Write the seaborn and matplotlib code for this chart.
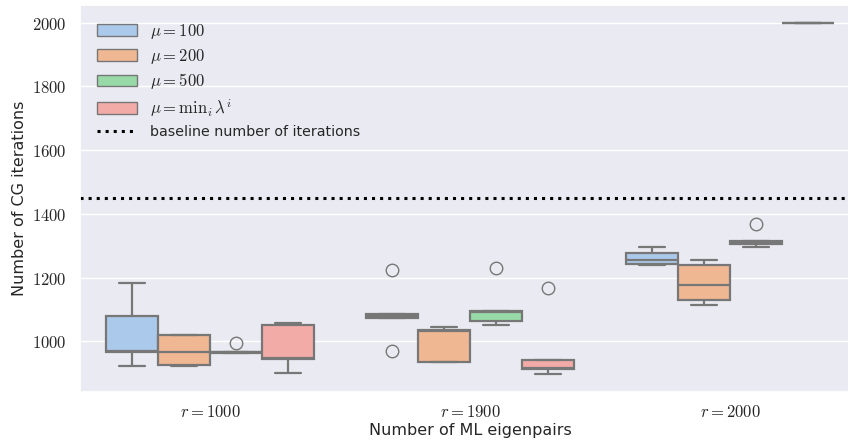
import matplotlib
matplotlib.use("Agg")
import matplotlib.pyplot as plt
import seaborn as sns
import pandas as pd

# ---- data ----
r_labels = ["$r = 1000$", "$r = 1900$", "$r = 2000$"]
mu_labels = [r"$\mu = 100$", r"$\mu = 200$", r"$\mu = 500$", r"$\mu = \mathrm{min}_i\, \lambda^i$"]

# iterations per (r, mu)
r1000_mu100 = [921, 965, 968, 1080, 1184]
r1000_mu200 = [921, 924, 965, 1019, 1019]
r1000_mu500 = [962, 964, 965, 967, 996]
r1000_mumin = [901, 943, 949, 1052, 1057]

r1900_mu100 = [970, 1074, 1078, 1085, 1225]
r1900_mu200 = [934, 934, 1031, 1034, 1045]
r1900_mu500 = [1051, 1064, 1093, 1095, 1231]
r1900_mumin = [896, 914, 916, 941, 1168]

r2000_mu100 = [1239, 1243, 1254, 1277, 1295]
r2000_mu200 = [1114, 1131, 1175, 1240, 1254]
r2000_mu500 = [1295, 1304, 1308, 1315, 1369]
r2000_mumin = [2000, 2000, 2000, 2000, 2000]

baseline = 1450
y_ticks = [1000, 1200, 1400, 1600, 1800, 2000]

groups = {
    (0, 0): r1000_mu100, (0, 1): r1000_mu200, (0, 2): r1000_mu500, (0, 3): r1000_mumin,
    (1, 0): r1900_mu100, (1, 1): r1900_mu200, (1, 2): r1900_mu500, (1, 3): r1900_mumin,
    (2, 0): r2000_mu100, (2, 1): r2000_mu200, (2, 2): r2000_mu500, (2, 3): r2000_mumin,
}
rows = []
for (ri, mi), vals in groups.items():
    for v in vals:
        rows.append({"r": r_labels[ri], "mu": mu_labels[mi], "iters": v})
df = pd.DataFrame(rows)

sns.set_theme(style="darkgrid")
plt.rcParams["mathtext.fontset"] = "cm"
plt.rcParams["font.family"] = ["DejaVu Sans"]

fig = plt.figure(figsize=(8.48, 4.43), dpi=100)
ax = fig.add_axes([80 / 848, 51 / 443, 780 / 848, 387 / 443])

sns.boxplot(data=df, x="r", y="iters", hue="mu", order=r_labels, hue_order=mu_labels,
            palette="pastel", width=0.8, linewidth=1.6, linecolor="#777777",
            fliersize=9, ax=ax)
ax.axhline(baseline, color="black", linestyle=":", linewidth=2.2,
           label="baseline number of iterations")

ax.set_yticks(y_ticks, labels=[f"${t}$" for t in y_ticks])
ax.tick_params(axis="both", labelsize=12)
ax.tick_params(axis="x", pad=2)
ax.set_xlabel("Number of ML eigenpairs", fontsize=11.5, labelpad=1)
ax.set_ylabel("Number of CG iterations", fontsize=11.5)
ax.set_xlim(-0.5, 2.5)

handles, labels = ax.get_legend_handles_labels()
for h in handles[:4]:
    try:
        h.set_linewidth(1.0)
    except Exception:
        pass
leg = ax.legend(handles=handles, labels=labels, loc="upper left", fontsize=12, title=None,
                frameon=False, handlelength=2.4, labelspacing=0.35, handletextpad=0.8,
                borderaxespad=0.6)
leg.get_texts()[-1].set_fontsize(10.3)

fig.savefig("out.png", dpi=100)
